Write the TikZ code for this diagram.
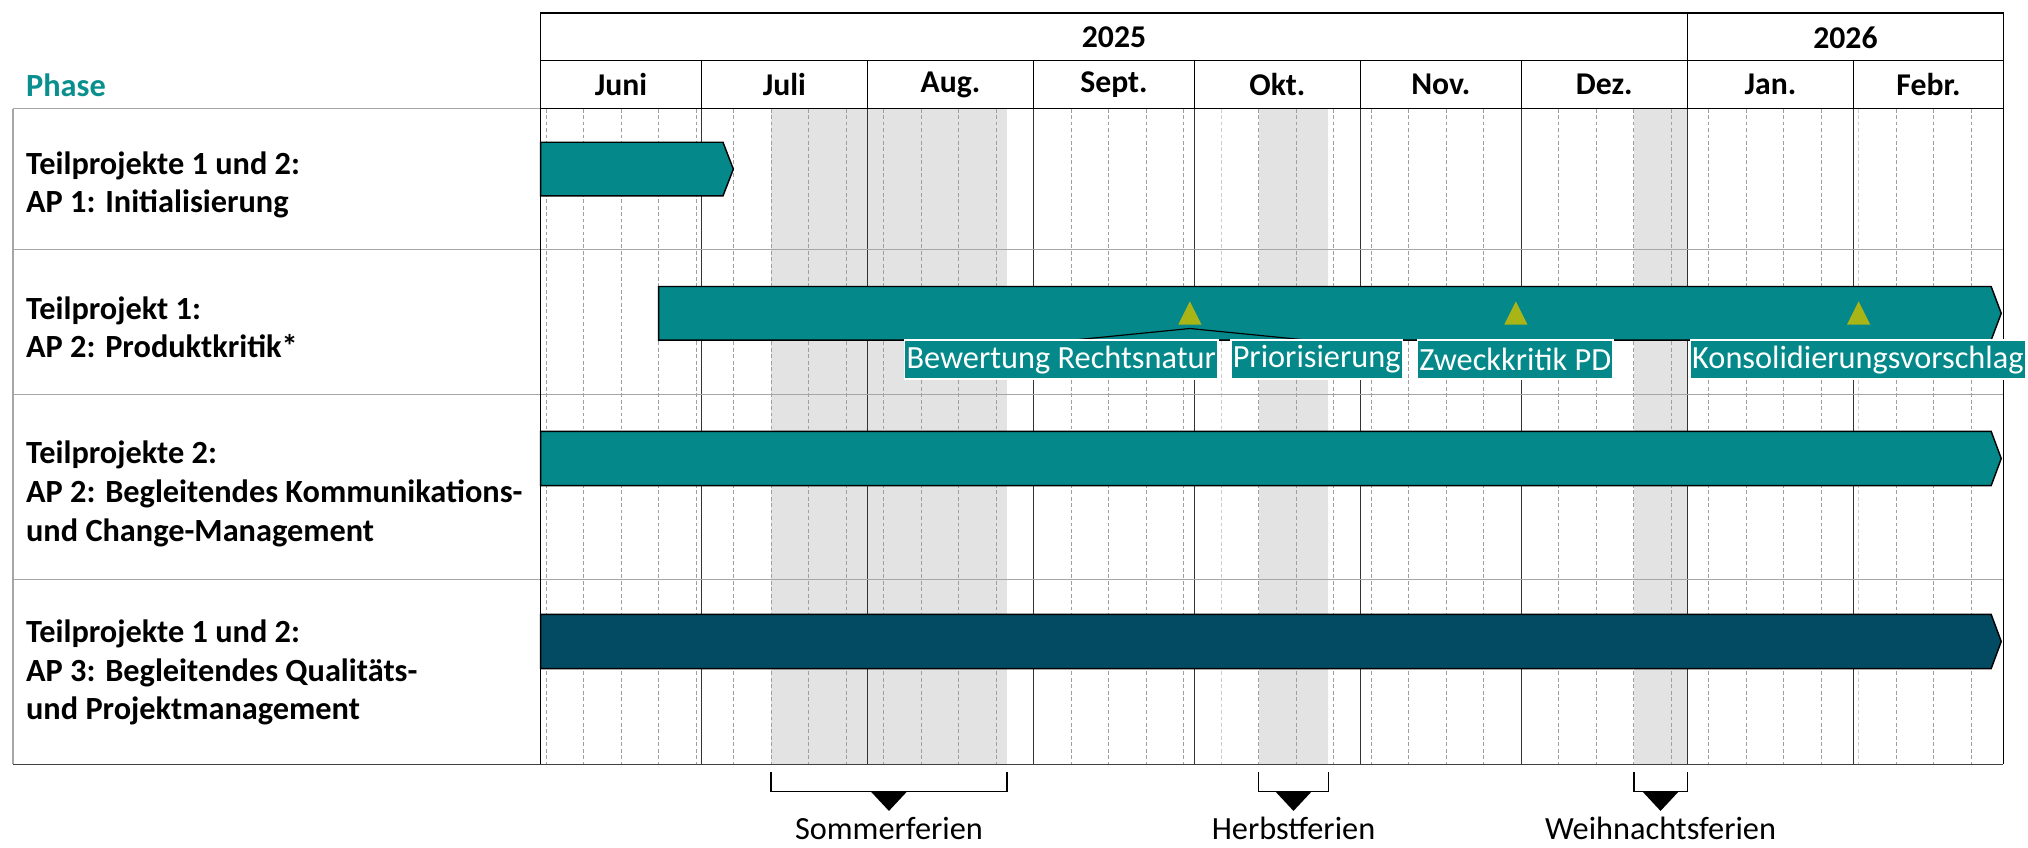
\documentclass[tikz,border=0pt]{standalone}
\usepackage{fontspec}
\setmainfont{Carlito}
\usetikzlibrary{calc}
\definecolor{teal1}{HTML}{04888A}
\definecolor{navy1}{HTML}{024B63}
\definecolor{olive1}{HTML}{A9B416}
\definecolor{shade1}{HTML}{E3E3E3}
\definecolor{phasec}{HTML}{0A8F8F}
\begin{document}
\begin{tikzpicture}[x=1pt,y=-1pt,
  rowlab/.style={anchor=west,align=left,font=\fontsize{25}{30}\selectfont\bfseries,inner sep=0pt},
  hdr/.style={font=\fontsize{24.5}{29}\selectfont\bfseries,inner sep=0pt},
  mslab/.style={fill=teal1,draw=white,line width=1.2pt,text=white,font=\fontsize{25}{30}\selectfont,inner xsep=1.5pt,inner ysep=0pt,minimum height=30pt},
  ferlab/.style={font=\fontsize{25}{30}\selectfont,inner sep=0pt,text depth=0pt,anchor=base},
  barbox/.style={draw=black,line width=1.1pt,fill=teal1,line join=miter},
  wk/.style={dashed,dash pattern=on 3pt off 2pt,gray!75,line width=0.6pt},
  wklight/.style={dashed,dash pattern=on 3pt off 2pt,gray!40,line width=0.6pt},
  monthline/.style={black!80,line width=0.6pt},
  rowline/.style={gray!70,line width=0.9pt},
  frame/.style={black,line width=1.1pt},
  brk/.style={black,line width=1.2pt},
  msfill/.style={fill=olive1},
]
\useasboundingbox (0,0) rectangle (1568,655);
\fill[white] (0,0) rectangle (1568,655);

% holiday shading
\fill[shade1] ({418+4.143*43},84) rectangle ({418+4.143*87},591);
\fill[shade1] ({418+4.143*134},84) rectangle ({418+4.143*147},591);
\fill[shade1] ({418+4.143*204},84) rectangle ({418+4.143*214},591);

% weekly lines (Mondays)
\foreach \k in {0,...,38}{
  \pgfmathsetmacro\dd{1+7*\k}
  \pgfmathsetmacro\xx{418+4.143*\dd}
  \ifnum\k=18 \draw[wklight] (\xx,84) -- (\xx,591);
  \else\ifnum\k=35 \draw[wklight] (\xx,84) -- (\xx,591);
  \else \draw[wk] (\xx,84) -- (\xx,591); \fi\fi
}
% month lines in body
\foreach \d in {30,61,92,122,153,183,214,245}{
  \pgfmathsetmacro\xx{418+4.143*\d}
  \draw[monthline] (\xx,84) -- (\xx,591);
}

% row lines and left frame
\draw[rowline] (10,84) -- (418,84);
\draw[rowline] (10,193) -- (1549,193);
\draw[rowline] (10,305) -- (1549,305);
\draw[rowline] (10,448) -- (1549,448);
\draw[rowline] (10,84) -- (10,591);
\draw[black!75,line width=1.1pt] (10,591) -- (1549,591);
\draw[frame] (418,84) -- (418,591);
\draw[frame] (1549,84) -- (1549,591);

% header
\draw[frame] (418,10) rectangle (1549,84);
\draw[frame] (418,47) -- (1549,47);
\draw[frame] ({418+4.143*214},10) -- ({418+4.143*214},84);
\foreach \d in {30,61,92,122,153,183,245}{
  \pgfmathsetmacro\xx{418+4.143*\d}
  \draw[frame] (\xx,47) -- (\xx,84);
}
\node[hdr] (y25) at ({418+4.143*107},28.5) {2025};
\node[hdr] (y26) at ({418+4.143*243.5},29) {2026};
\node[hdr] (mjun) at ({418+4.143*15},65.5) {Juni};
\node[hdr] (mjul) at ({418+4.143*45.5},65.5) {Juli};
\node[hdr] (maug) at ({418+4.143*76.5},65.5) {Aug.};
\node[hdr] (msep) at ({418+4.143*107},65.5) {Sept.};
\node[hdr] (mokt) at ({418+4.143*137.5},65.5) {Okt.};
\node[hdr] (mnov) at ({418+4.143*168},65.5) {Nov.};
\node[hdr] (mdez) at ({418+4.143*198.5},65.5) {Dez.};
\node[hdr] (mjan) at ({418+4.143*229.5},65.5) {Jan.};
\node[hdr] (mfeb) at ({418+4.143*259},65.5) {Febr.};

\node[anchor=west,inner sep=0pt,text=phasec,font=\fontsize{25}{30}\selectfont\bfseries] (phase) at (20,66) {Phase};

% row labels
\node[rowlab] (r1) at (20,143) {Teilprojekte 1 und 2:\\AP 1: Initialisierung};
\node[rowlab] (r2) at (20,253) {Teilprojekt 1:\\AP 2: Produktkritik*};
\node[rowlab] (r3) at (20,382) {Teilprojekte 2:\\AP 2: Begleitendes Kommunikations-\\und Change-Management};
\node[rowlab] (r4) at (20,520) {Teilprojekte 1 und 2:\\AP 3: Begleitendes Qualitäts-\\und Projektmanagement};

% bars
\draw[barbox] (418,110) -- (559,110) -- (567,130.75) -- (559,151.5) -- (418,151.5) -- cycle;
\draw[barbox] (509.2,221.5) -- (1539.5,221.5) -- (1547.3,242.25) -- (1539.5,263) -- (509.2,263) -- cycle;
\draw[barbox] (418,333.5) -- (1539.5,333.5) -- (1547.3,354.5) -- (1539.5,375.5) -- (418,375.5) -- cycle;
\draw[barbox,fill=navy1] (418,475) -- (1539.5,475) -- (1547.3,496) -- (1539.5,517) -- (418,517) -- cycle;

% milestone connector to its two labels
\coordinate (m1) at (920,254);
\coordinate (m2) at (1172,254);
\coordinate (m3) at (1437,254);
\coordinate (c1) at (829,263);
\coordinate (c2) at (1011,263);
\draw[black,line width=0.9pt] (c1) -- (m1) -- (c2);

% milestone labels
\node[mslab] (l1) at (820.5,278) {Bewertung Rechtsnatur};
\node[mslab] (l2) at (1018,278) {Priorisierung};
\node[mslab] (l3) at (1171.5,278) {Zweckkritik PD};
\node[mslab] (l4) at (1436.5,278) {Konsolidierungsvorschlag};

% milestone triangles
\fill[msfill] (m1) ++(-9,-3) -- ++(18,0) -- ++(-9,-18) -- cycle;
\fill[msfill] (m2) ++(-9,-3) -- ++(18,0) -- ++(-9,-18) -- cycle;
\fill[msfill] (m3) ++(-9,-3) -- ++(18,0) -- ++(-9,-18) -- cycle;

% holiday brackets
\coordinate (s1) at ({418+4.143*43},597);
\coordinate (s2) at ({418+4.143*87},597);
\coordinate (h1) at ({418+4.143*134},597);
\coordinate (h2) at ({418+4.143*147},597);
\coordinate (w1) at ({418+4.143*204},597);
\coordinate (w2) at ({418+4.143*214},597);
\draw[brk] (s1) -- ++(0,15) -| (s2);
\draw[brk] (h1) -- ++(0,15) -| (h2);
\draw[brk] (w1) -- ++(0,15) -| (w2);
\foreach \a/\b/\n in {s1/s2/sm,h1/h2/hm,w1/w2/wm}{
  \coordinate (\n) at ($(\a)!0.5!(\b)+(0,15)$);
  \fill (\n) ++(-14,0) -- ++(28,0) -- ++(-14,15) -- cycle;
}
\node[ferlab] (f1) at ($(sm)+(0,37)$) {Sommerferien};
\node[ferlab] (f2) at ($(hm)+(0,37)$) {Herbstferien};
\node[ferlab] (f3) at ($(wm)+(0,37)$) {Weihnachtsferien};
\end{tikzpicture}
\end{document}
